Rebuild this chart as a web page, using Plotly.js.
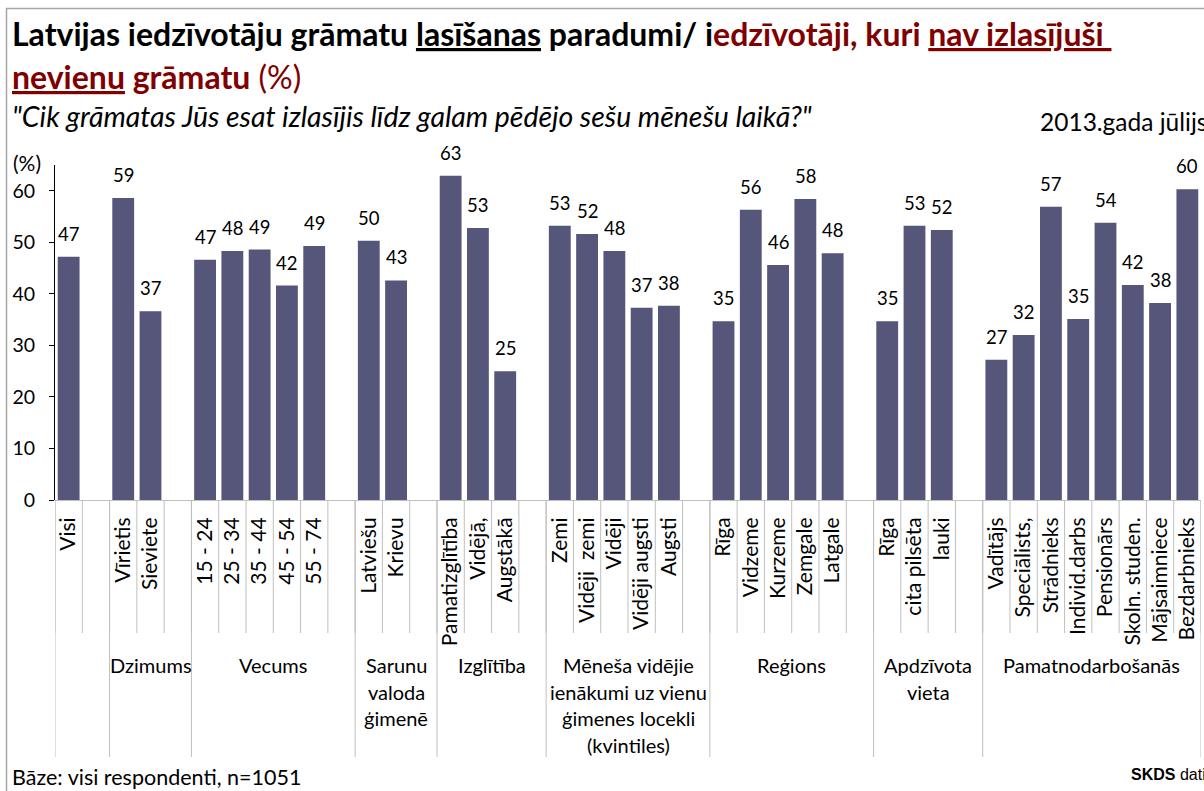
<!DOCTYPE html>
<html><head><meta charset="utf-8">
<script src="https://cdn.plot.ly/plotly-3.0.1.min.js"></script>
<style>html,body{margin:0;padding:0;background:#fff}#chart{width:1204px;height:791px}</style>
</head><body><div id="chart"></div>
<script>
// ---- data ----
const categories = ['Visi','',
  'Vīrietis','Sieviete','',
  '15 - 24','25 - 34','35 - 44','45 - 54','55 - 74','',
  'Latviešu','Krievu','',
  'Pamatizglītība','Vidējā,','Augstākā','',
  'Zemi','Vidēji  zemi','Vidēji','Vidēji augsti','Augsti','',
  'Rīga','Vidzeme','Kurzeme','Zemgale','Latgale','',
  'Rīga','cita pilsēta','lauki','',
  'Vadītājs','Speciālists,','Strādnieks','Individ.darbs','Pensionārs','Skoln. studen.','Mājsaimniece','Bezdarbnieks'];
const values = [47.2,null,
  58.6,36.6,null,
  46.6,48.3,48.6,41.6,49.3,null,
  50.3,42.6,null,
  62.9,52.8,25.0,null,
  53.2,51.6,48.3,37.3,37.7,null,
  34.7,56.3,45.6,58.4,47.9,null,
  34.7,53.2,52.4,null,
  27.2,32.0,56.9,35.1,53.8,41.7,38.2,60.3];
const groupNames = ['', 'Dzimums', 'Vecums', 'Sarunu\nvaloda\nģimenē', 'Izglītība',
  'Mēneša vidējie\nienākumi uz vienu\nģimenes locekli\n(kvintiles)', 'Reģions', 'Apdzīvota\nvieta', 'Pamatnodarbošanās'];
const groupSizes = [2,3,6,3,4,6,6,4,8];
const yTicks = [0,10,20,30,40,50,60];

// ---- geometry helpers (pixel -> paper) ----
const L=55, R=1201, T=165, B=500;
const W=R-L, H=B-T;
const px = x => (x-L)/W;
const py = y => (B-y)/H;

const FONT = 'Lato, "Open Sans", sans-serif';
const RED = '#800000';
const BAR = '#56557a';
const GRID = '#bfbfbf';

const idx = categories.map((_, i) => i);

const shapes = [];
// short separators between every category slot
for (let k = 0; k <= categories.length; k++) {
  shapes.push({type:'line', xref:'x', yref:'paper', x0:k-0.5, x1:k-0.5, y0:0, y1:py(633),
    line:{color:GRID, width:1}});
}
// long group separators
let pos = 0;
const groupBounds = [0];
groupSizes.forEach(s => { pos += s; groupBounds.push(pos); });
groupBounds.forEach(b => {
  shapes.push({type:'line', xref:'x', yref:'paper', x0:b-0.5, x1:b-0.5, y0:0, y1:py(757),
    line:{color:GRID, width:1}});
});
// outer frame
shapes.push({type:'rect', xref:'paper', yref:'paper', x0:px(6.5), x1:px(1215), y0:py(8.5), y1:py(805),
  line:{color:'#a6a6a6', width:1.5}, fillcolor:'rgba(0,0,0,0)', layer:'above'});

const annotations = [];
// data labels
values.forEach((v, i) => {
  if (v === null) return;
  annotations.push({x:i, y:v, xref:'x', yref:'y', text:String(Math.round(v)), showarrow:false,
    yanchor:'bottom', xanchor:'center', yshift:10, font:{family:FONT, size:18.5, color:'#000'}});
});
// group labels
const lineY = [665, 692, 718, 745];
groupNames.forEach((g, gi) => {
  if (!g) return;
  const c = (groupBounds[gi] + groupBounds[gi+1]) / 2 - 0.5;
  g.split('\n').forEach((ln, li) => {
    annotations.push({x:c, y:py(lineY[li]), xref:'x', yref:'paper', text:ln, showarrow:false,
      xanchor:'center', yanchor:'middle', font:{family:FONT, size:20, color:'#000'}});
  });
});
// header texts
function txt(x, yc, text, size, extra) {
  annotations.push(Object.assign({x:px(x), y:py(yc), xref:'paper', yref:'paper', text:text, showarrow:false,
    xanchor:'left', yanchor:'middle', align:'left', font:{family:FONT, size:size, color:'#000'}}, extra||{}));
}
txt(10, 33.5, "<b>Latvijas iedzīvotāju grāmatu <u>lasīšanas</u> paradumi/ i<span style='color:"+RED+"'>edzīvotāji, kuri <u>nav izlasījuši </u></span></b>", 32);
txt(10, 76, "<span style='color:"+RED+"'><b><u>nevienu</u> grāmatu</b> (%)</span>", 32);
txt(10, 116, "<i>\"Cik grāmatas Jūs esat izlasījis līdz galam pēdējo sešu mēnešu laikā?\"</i>", 28.4);
txt(1038, 122, "2013.gada jūlijs", 24.5);
txt(11, 162, "(%)", 21);
txt(10, 776.5, "Bāze: visi respondenti, n=1051", 21.5);
txt(1129, 774, "<b>SKDS</b> dati", 16, {font:{family:'"Liberation Sans", Arial, sans-serif', size:16, color:'#000'}});

const trace = {
  type:'bar', x:idx, y:values, marker:{color:BAR}, hoverinfo:'skip', width:0.8
};

const layout = {
  width:1204, height:791,
  margin:{l:L, r:1204-R, t:T, b:791-B, pad:0},
  paper_bgcolor:'#fff', plot_bgcolor:'#fff',
  showlegend:false,
  bargap:0.2,
  xaxis:{
    type:'linear', range:[-0.5, categories.length-0.5], fixedrange:true,
    tickmode:'array', tickvals:idx, ticktext:categories, tickangle:-90,
    ticks:'', showgrid:false, zeroline:false, showline:true, linecolor:GRID, linewidth:1,
    tickfont:{family:FONT, size:21, color:'#000'}, ticklabelstandoff:8
  },
  yaxis:{
    range:[0,65], fixedrange:true, tickmode:'array', tickvals:yTicks,
    ticks:'outside', ticklen:5, tickcolor:'#000', tickwidth:1,
    showgrid:false, zeroline:false, showline:true, linecolor:'#000', linewidth:1,
    tickfont:{family:FONT, size:19.5, color:'#000'}, ticklabelstandoff:10
  },
  shapes:shapes,
  annotations:annotations
};

Plotly.newPlot('chart', [trace], layout, {staticPlot:true, displayModeBar:false});
</script>
</body></html>
